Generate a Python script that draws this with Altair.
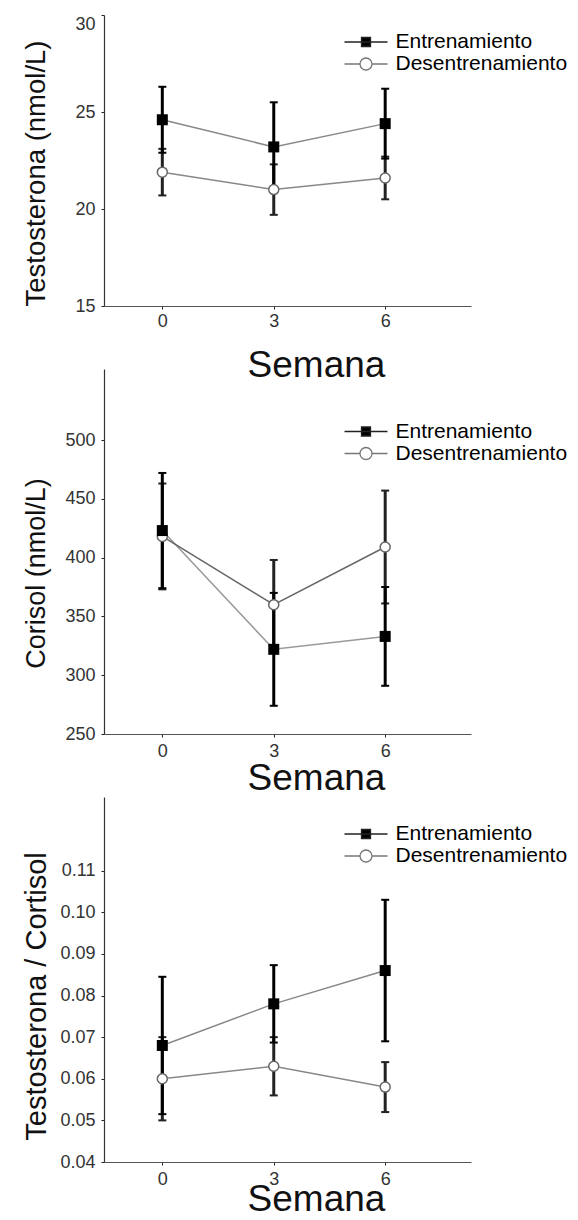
import altair as alt
import pandas as pd

# ---------------- data ----------------
weeks = [0, 3, 6]
series = ["Entrenamiento", "Desentrenamiento"]

testo_ent = [24.6, 23.2, 24.4]
testo_ent_err = [1.7, 2.3, 1.8]
testo_des = [21.9, 21.0, 21.6]
testo_des_err = [1.2, 1.3, 1.1]

cort_ent = [423, 322, 333]
cort_ent_err = [49, 48, 42]
cort_des = [418, 360, 409]
cort_des_err = [45, 38, 48]

ratio_ent = [0.068, 0.078, 0.086]
ratio_ent_err = [0.0165, 0.0093, 0.017]
ratio_des = [0.060, 0.063, 0.058]
ratio_des_err = [0.010, 0.007, 0.006]

y_titles = ["Testosterona (nmol/L)", "Corisol (nmol/L)", "Testosterona / Cortisol"]
x_title = "Semana"
x_ticks = [0, 3, 6]
y_ticks_testo = [15, 20, 25, 30]
y_ticks_cort = [250, 300, 350, 400, 450, 500]
y_ticks_ratio = [0.04, 0.05, 0.06, 0.07, 0.08, 0.09, 0.10, 0.11]

FONT = "Liberation Sans"
X_DOMAIN = [-1.57, 8.31]
PLOT_W = 367

# legend symbols (line + marker), unit coordinates scaled by sqrt(size)/2
PATH_ENT = "M-4.3,0H4.3M-0.9,-0.9H0.9V0.9H-0.9Z"
PATH_DES = "M-4.3,0H-1.2M1.2,0H4.3M1.2,0A1.2,1.2,0,1,1,-1.2,0A1.2,1.2,0,1,1,1.2,0Z"


def make_df(ent, ent_err, des, des_err):
    rows = []
    for s, vals, errs in [(series[0], ent, ent_err), (series[1], des, des_err)]:
        for w, v, e in zip(weeks, vals, errs):
            rows.append({"Semana": w, "Serie": s, "Leyenda": s,
                         "valor": v, "lo": v - e, "hi": v + e})
    return pd.DataFrame(rows)


def panel(ent, ent_err, des, des_err, domain, ticks, fmt, ytitle, height,
          ytitle_y, ytitle_size, xlab_pad, xtitle_y, legend_y,
          ent_line, des_line, top_flush=None):
    df = make_df(ent, ent_err, des, des_err)

    xaxis = alt.Axis(values=x_ticks, title=x_title, grid=False, format="d",
                     labelFontSize=18, labelFont=FONT, labelColor="#333",
                     labelPadding=xlab_pad, tickSize=3, tickColor="#222",
                     domainColor="#555", domainWidth=1.2,
                     titleFontSize=37, titleFont=FONT, titleFontWeight="normal",
                     titleColor="#111", titleX=212, titleY=xtitle_y,
                     titleAlign="center", titleBaseline="middle")
    ykw = dict(values=ticks, title=ytitle, grid=False, format=fmt,
               labelFontSize=18, labelFont=FONT, labelColor="#333",
               labelPadding=6, tickSize=3, tickColor="#222",
               domainColor="#333", domainWidth=1.2,
               titleFontSize=ytitle_size, titleFont=FONT, titleFontWeight="normal",
               titleColor="#111", titleX=-68, titleY=ytitle_y,
               titleAlign="center", titleBaseline="middle", titleAngle=270)
    if top_flush is not None:
        ykw["labelBaseline"] = {"condition": {"test": f"datum.value == {top_flush}",
                                              "value": "top"},
                                "value": "middle"}
    yaxis = alt.Axis(**ykw)
    xscale = alt.Scale(domain=X_DOMAIN, nice=False, zero=False)
    yscale = alt.Scale(domain=domain, nice=False, zero=False)

    def X():
        return alt.X("Semana:Q", scale=xscale, axis=xaxis)

    def Y(f):
        return alt.Y(f, scale=yscale, axis=yaxis)

    base = alt.Chart(df)
    f_ent = alt.datum.Serie == series[0]
    f_des = alt.datum.Serie == series[1]

    line_ent = base.transform_filter(f_ent).mark_line(color=ent_line, strokeWidth=1.5).encode(
        x=X(), y=Y("valor:Q"))
    line_des = base.transform_filter(f_des).mark_line(color=des_line, strokeWidth=1.5).encode(
        x=X(), y=Y("valor:Q"))

    def bars(flt, color, width):
        r = base.transform_filter(flt).mark_rule(color=color, strokeWidth=width, opacity=1).encode(
            x=X(), y=Y("lo:Q"), y2="hi:Q")
        t1 = base.transform_filter(flt).mark_tick(color=color, orient="horizontal", opacity=1,
                                                  size=8, thickness=2).encode(x=X(), y=Y("lo:Q"))
        t2 = base.transform_filter(flt).mark_tick(color=color, orient="horizontal", opacity=1,
                                                  size=8, thickness=2).encode(x=X(), y=Y("hi:Q"))
        return [r, t1, t2]

    circles = base.transform_filter(f_des).mark_point(
        shape="circle", filled=True, fill="white", stroke="#666", strokeWidth=1.5,
        size=100, opacity=1).encode(x=X(), y=Y("valor:Q"))
    squares = base.transform_filter(f_ent).mark_point(
        shape="square", filled=True, color="black", size=121, opacity=1).encode(
        x=X(), y=Y("valor:Q"))

    leg = alt.Legend(title=None, orient="none", legendX=251.5, legendY=legend_y,
                     symbolSize=100, symbolStrokeWidth=1.3, labelFontSize=21,
                     labelFont=FONT, labelColor="black", labelOffset=19,
                     rowPadding=0, padding=0, labelLimit=400, symbolOpacity=1)
    legend_layer = base.transform_filter("false").mark_point(opacity=1).encode(
        x=X(), y=Y("valor:Q"),
        shape=alt.Shape("Leyenda:N", scale=alt.Scale(domain=series, range=[PATH_ENT, PATH_DES]), legend=leg),
        fill=alt.Fill("Leyenda:N", scale=alt.Scale(domain=series, range=["black", "white"]), legend=leg),
        stroke=alt.Stroke("Leyenda:N", scale=alt.Scale(domain=series, range=["#222", "#777"]), legend=leg),
    )

    layers = [line_ent, line_des] + bars(f_des, "#222", 3) + bars(f_ent, "black", 3) + \
             [circles, squares, legend_layer]
    return alt.layer(*layers).properties(width=PLOT_W, height=height)


p1 = panel(testo_ent, testo_ent_err, testo_des, testo_des_err, [15, 30], y_ticks_testo, "d",
           y_titles[0], 291, 158, 27.5, 3, 59, 16.5, "#888", "#888", top_flush=30)
p2 = panel(cort_ent, cort_ent_err, cort_des, cort_des_err, [250, 560.4], y_ticks_cort, "d",
           y_titles[1], 365, 204, 27, 5, 44, 52, "#999", "#666")
p3 = panel(ratio_ent, ratio_ent_err, ratio_des, ratio_des_err, [0.04, 0.1277], y_ticks_ratio, ".2f",
           y_titles[2], 365, 199, 29, 5, 37, 26.5, "#888", "#888")

chart = alt.vconcat(p1, p2, p3, spacing=63, bounds="flush").resolve_scale(
    shape="independent", fill="independent", stroke="independent"
).resolve_legend(
    shape="independent", fill="independent", stroke="independent"
).properties(
    padding={"top": 6, "left": 14, "right": 0, "bottom": -4},
    background="white",
).configure_view(stroke=None)

chart.save("out.html", embed_options={"renderer": "svg", "actions": False})
